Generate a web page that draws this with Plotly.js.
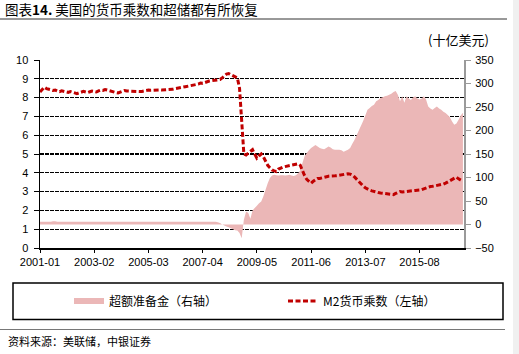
<!DOCTYPE html>
<html>
<head>
<meta charset="utf-8">
<script src="https://cdn.plot.ly/plotly-3.0.1.min.js"></script>
<style>html,body{margin:0;padding:0;background:#fff;}#chart{width:519px;height:354px;}</style>
</head>
<body>
<div id="chart"></div>
<script>
// Monthly categories 2001-01 .. 2017-04
const months = [];
for (let i = 0; i < 196; i++) {
  const yr = 2001 + Math.floor(i / 12), mo = (i % 12) + 1;
  months.push(yr + '-' + String(mo).padStart(2, '0'));
}
const tickLabels = ['2001-01','2003-02','2005-03','2007-04','2009-05','2011-06','2013-07','2015-08'];

// M2 money multiplier (left axis)
const m2Multiplier = [
  8.30,8.45,8.55,8.48,8.43,8.42,8.38,8.40,8.35,8.32,8.36,8.34, // 2001
  8.30,8.28,8.32,8.30,8.25,8.21,8.24,8.30,8.33,8.30,8.27,8.31, // 2002
  8.35,8.33,8.30,8.36,8.40,8.38,8.43,8.40,8.36,8.33,8.30,8.27, // 2003
  8.25,8.30,8.36,8.38,8.35,8.34,8.33,8.34,8.32,8.33,8.32,8.33, // 2004
  8.36,8.38,8.40,8.39,8.40,8.41,8.40,8.41,8.40,8.40,8.41,8.42, // 2005
  8.42,8.44,8.47,8.50,8.52,8.54,8.55,8.58,8.60,8.62,8.65,8.68, // 2006
  8.70,8.72,8.78,8.76,8.80,8.85,8.88,8.90,8.92,8.93,8.95,8.96, // 2007
  9.05,9.15,9.25,9.28,9.22,9.15,9.10,9.05,8.50,6.50,5.00,4.95, // 2008
  5.05,5.15,5.23,5.00,4.78,4.90,5.00,4.85,4.60,4.40,4.27,4.15, // 2009
  4.10,4.07,4.20,4.27,4.30,4.33,4.35,4.38,4.40,4.42,4.45,4.48, // 2010
  4.40,4.10,3.85,3.65,3.52,3.45,3.55,3.65,3.70,3.70,3.74,3.78, // 2011
  3.80,3.82,3.83,3.82,3.84,3.85,3.87,3.90,3.92,3.93,3.95,3.93, // 2012
  3.88,3.78,3.65,3.52,3.40,3.30,3.20,3.12,3.08,3.04,3.00,2.97, // 2013
  2.95,2.93,2.92,2.90,2.88,2.87,2.85,2.84,2.90,2.97,3.00,2.98, // 2014
  3.00,3.02,3.03,3.02,3.05,3.06,3.05,3.08,3.10,3.15,3.20,3.24, // 2015
  3.27,3.28,3.30,3.32,3.35,3.38,3.40,3.45,3.52,3.60,3.65,3.72, // 2016
  3.77,3.68,3.60,3.55                                          // 2017
];

// Excess reserves (right axis)
const excessReserves = [
  6,6,6,6,6,6,7,7,6,6,6,6,             // 2001
  6,6,6,6,6,6,6,6,6,6,6,6,             // 2002
  6,6,6,6,6,6,6,6,6,6,6,6,             // 2003
  6,6,6,6,6,6,6,6,6,6,6,6,             // 2004
  6,6,6,6,6,6,6,6,6,6,6,6,             // 2005
  6,6,6,6,6,6,6,6,6,6,6,6,             // 2006
  6,6,6,6,6,6,6,6,6,6,5,3,             // 2007
  0,-2,-4,-6,-8,-10,-12,-13,-18,-29,10,27, // 2008
  25,12,30,35,40,45,49,60,74,88,99,104,    // 2009
  106,105,104,105,105,104,105,106,104,103,105,109, // 2010
  115,131,145,152,158,163,166,169,166,163,161,160, // 2011
  163,166,164,160,159,159,159,158,155,157,159,163, // 2012
  172,180,190,200,210,220,232,244,248,252,255,262, // 2013
  265,269,271,273,274,276,278,282,284,276,262,273, // 2014
  259,273,268,265,270,273,268,266,268,273,266,251, // 2015
  247,244,248,251,247,244,240,237,233,228,219,212, // 2016
  215,223,232,238                                  // 2017
];

const FONT = 'Liberation Sans, Arial, sans-serif';
const CJK = 'Noto Sans CJK SC, sans-serif';

// pixel -> paper helpers (plot area: x 40..464, y 60..248)
const L = 40, R = 55, T = 60, B = 106, W = 519, H = 354;
const pw = W - L - R, ph = H - T - B;
const px = x => (x - L) / pw;
const py = y => (H - B - y) / ph;

const traces = [
  {
    name: '超额准备金（右轴）',
    x: months, y: excessReserves,
    type: 'scatter', mode: 'none', fill: 'tozeroy',
    fillcolor: '#ebb7b7',
    xaxis: 'x', yaxis: 'y',
    legend: 'legend',
    hoverinfo: 'skip'
  },
  {
    name: 'M2货币乘数（左轴）',
    x: months, y: m2Multiplier,
    type: 'scatter', mode: 'lines',
    line: {color: '#c00000', width: 3, dash: '5px,2.5px'},
    xaxis: 'x', yaxis: 'y2',
    legend: 'legend2',
    hoverinfo: 'skip'
  }
];

const legendBase = {
  orientation: 'h',
  xanchor: 'left',
  y: py(301), yanchor: 'middle',
  bgcolor: 'rgba(0,0,0,0)', borderwidth: 0,
  font: {family: CJK, size: 12, color: '#000'},
  itemwidth: 30
};

const layout = {
  width: W, height: H,
  margin: {l: L, r: R, t: T, b: B, pad: 0},
  paper_bgcolor: '#fff', plot_bgcolor: 'rgba(0,0,0,0)',
  font: {family: FONT, size: 11, color: '#000'},
  showlegend: true,
  title: {
    text: '图表<b>14.</b> 美国的货币乘数和超储都有所恢复',
    font: {family: CJK, size: 13.5, color: '#000'},
    xref: 'container', yref: 'container',
    x: 5 / W, xanchor: 'left', y: 1 - 10 / H, yanchor: 'middle'
  },
  xaxis: {
    type: 'category',
    range: [0, 195.5],
    tickmode: 'array', tickvals: tickLabels, ticktext: tickLabels,
    showline: true, linecolor: '#000', linewidth: 1.5,
    ticks: 'outside', ticklen: 3, tickcolor: '#000', tickwidth: 1,
    showgrid: false, zeroline: false,
    tickfont: {family: FONT, size: 11, color: '#000'},
    fixedrange: true
  },
  yaxis: {
    side: 'right',
    range: [-50, 350], tickmode: 'linear', tick0: -50, dtick: 50,
    showline: true, linecolor: '#9a9a9a', linewidth: 2,
    ticks: 'outside', ticklen: 5, tickcolor: '#9a9a9a', tickwidth: 1,
    showgrid: false, zeroline: false,
    ticklabelstandoff: 2,
    tickfont: {family: FONT, size: 11, color: '#000'},
    fixedrange: true
  },
  yaxis2: {
    side: 'left', overlaying: 'y',
    range: [0, 10], tickmode: 'linear', tick0: 0, dtick: 1,
    showline: true, linecolor: '#000', linewidth: 1.5,
    ticks: 'outside', ticklen: 5, tickcolor: '#000', tickwidth: 1,
    showgrid: true, gridcolor: '#000', gridwidth: 1.3, griddash: '4px,1px',
    zeroline: false,
    ticklabelstandoff: 3,
    tickfont: {family: FONT, size: 11, color: '#000'},
    fixedrange: true
  },
  legend: Object.assign({}, legendBase, {x: px(69)}),
  legend2: Object.assign({}, legendBase, {x: px(283)}),
  shapes: [
    // right grey margin strip
    {type: 'rect', xref: 'paper', yref: 'paper', x0: px(513), x1: px(519), y0: py(0), y1: py(354),
     fillcolor: '#f0f0f0', line: {width: 0}, layer: 'below'},
    // title underline
    {type: 'line', xref: 'paper', yref: 'paper', x0: px(0), x1: px(507), y0: py(19), y1: py(19),
     line: {color: '#333', width: 1}},
    // legend box
    {type: 'rect', xref: 'paper', yref: 'paper', x0: px(13), x1: px(503), y0: py(283), y1: py(319.5),
     line: {color: '#000', width: 1.5}, fillcolor: 'rgba(0,0,0,0)'},
    // source separator
    {type: 'line', xref: 'paper', yref: 'paper', x0: px(0), x1: px(505), y0: py(329.5), y1: py(329.5),
     line: {color: '#777', width: 1}}
  ],
  annotations: [
    {text: '(十亿美元)', xref: 'paper', yref: 'paper', x: px(458), y: py(40),
     xanchor: 'center', yanchor: 'middle', showarrow: false,
     font: {family: CJK, size: 13, color: '#000'}},
    {text: '资料来源：美联储，中银证券', xref: 'paper', yref: 'paper', x: px(6), y: py(341),
     xanchor: 'left', yanchor: 'middle', showarrow: false,
     font: {family: CJK, size: 11, color: '#000'}}
  ]
};

Plotly.newPlot('chart', traces, layout, {displayModeBar: false, staticPlot: true});
</script>
</body>
</html>
